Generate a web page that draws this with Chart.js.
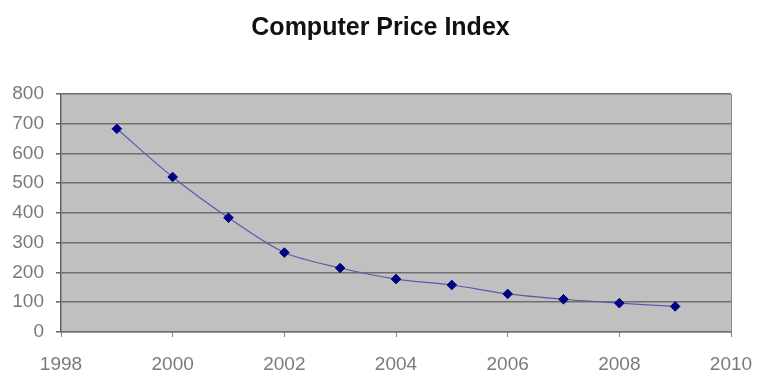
<!DOCTYPE html>
<html>
<head>
<meta charset="utf-8">
<script src="https://cdn.jsdelivr.net/npm/chart.js@4/dist/chart.umd.min.js"></script>
<style>
html,body{margin:0;padding:0;background:#fff;}
#wrap{width:761px;height:382px;}
</style>
</head>
<body>
<div id="wrap"><canvas id="c" width="761" height="382"></canvas></div>
<script>
const titleText = 'Computer Price Index';
const years = [1999, 2000, 2001, 2002, 2003, 2004, 2005, 2006, 2007, 2008, 2009];
const priceIndex = [683, 521, 384, 267, 215, 178, 158, 128, 110, 97, 86];
const yTicks = [0, 100, 200, 300, 400, 500, 600, 700, 800];
const xTicks = [1998, 2000, 2002, 2004, 2006, 2008, 2010];

const plotBg = {
  id: 'plotBg',
  beforeDraw(chart) {
    const {ctx, chartArea: a} = chart;
    ctx.save();
    ctx.fillStyle = '#c0c0c0';
    ctx.fillRect(a.left, a.top, a.right - a.left, a.bottom - a.top);
    ctx.restore();
  }
};

new Chart(document.getElementById('c'), {
  type: 'line',
  data: {
    datasets: [{
      data: years.map((y, i) => ({x: y, y: priceIndex[i]})),
      borderColor: '#5a5aad',
      borderWidth: 1.2,
      tension: 0.3,
      pointStyle: 'rectRot',
      pointRadius: 4.8,
      pointBackgroundColor: '#000080',
      pointBorderColor: '#000080',
      pointBorderWidth: 1
    }]
  },
  plugins: [plotBg],
  options: {
    responsive: false,
    animation: false,
    layout: {padding: 0},
    plugins: {
      legend: {display: false},
      tooltip: {enabled: false},
      title: {
        display: true,
        text: titleText,
        color: '#111',
        font: {family: 'Liberation Sans, Arial, sans-serif', size: 25, weight: 'bold'},
        padding: {top: 13, bottom: 51}
      }
    },
    scales: {
      x: {
        type: 'linear',
        min: 1998, max: 2010,
        afterBuildTicks(s) { s.ticks = xTicks.map(v => ({value: v})); },
        afterFit(s) { s.height = 50; s.paddingRight = 0; s.paddingLeft = 0; },
        grid: {drawOnChartArea: false, drawTicks: true, tickLength: 5, color: '#808080', lineWidth: 1},
        border: {display: true, color: '#707070', width: 1.5},
        ticks: {
          color: '#7a7a7a',
          padding: 16,
          maxRotation: 0,
          font: {family: 'Liberation Sans, Arial, sans-serif', size: 19},
          callback: v => String(v)
        }
      },
      y: {
        min: 0, max: 800,
        afterBuildTicks(s) { s.ticks = yTicks.map(v => ({value: v})); },
        afterFit(s) { s.width = 61; },
        grid: {color: '#6e6e6e', lineWidth: 1.6, drawTicks: true, tickLength: 5},
        border: {display: true, color: '#606060', width: 1.5},
        ticks: {
          color: '#7a7a7a',
          padding: 12,
          font: {family: 'Liberation Sans, Arial, sans-serif', size: 19}
        }
      },
      yRight: {
        position: 'right',
        min: 0, max: 800,
        afterFit(s) { s.width = 30; },
        grid: {drawOnChartArea: false, drawTicks: false},
        border: {display: true, color: '#8a8a8a', width: 1},
        ticks: {display: false}
      }
    }
  }
});
</script>
</body>
</html>
